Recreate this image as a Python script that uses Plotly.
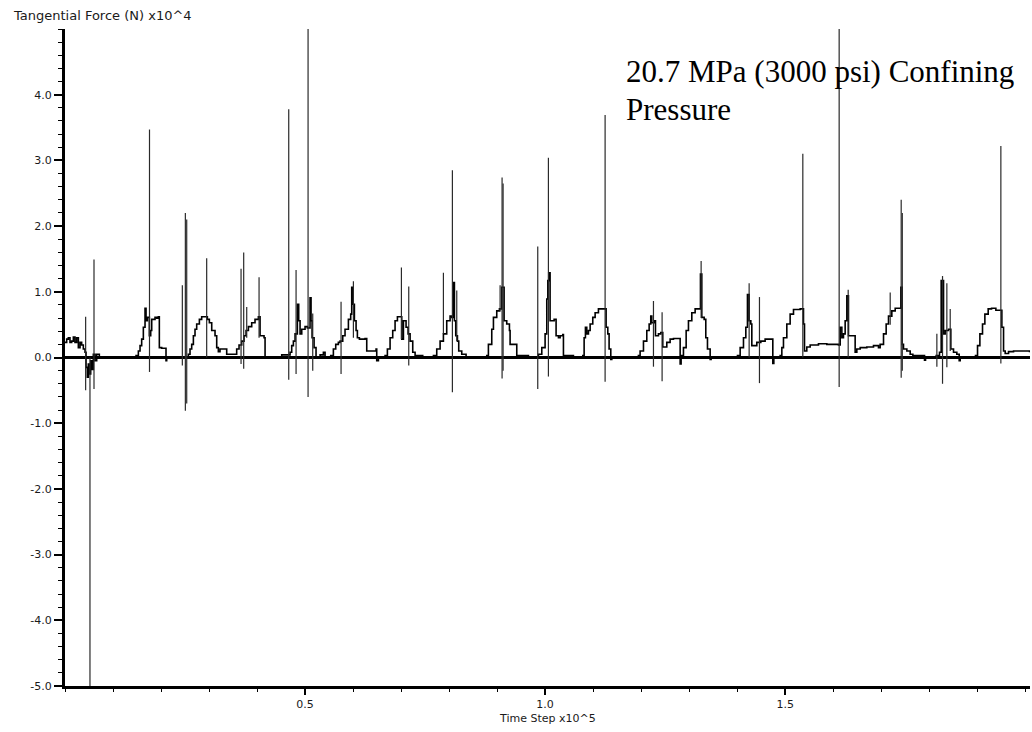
import plotly.graph_objects as go

# ---- data (time step x10^5, tangential force x10^4 N) ----
time_curve = [
    0.000, 0.0035, 0.0069, 0.0104, 0.0139, 0.0174, 0.0208, 0.0243, 0.0278, 0.0313,
    0.0347, 0.0382, 0.0417, 0.0438, 0.0465, 0.0486, 0.0507, 0.0535, 0.0563, 0.0590,
    0.0625, 0.0660, 0.0715,
    0.148, 0.1528, 0.1563, 0.1597, 0.1632, 0.1667, 0.1688, 0.1715, 0.1757, 0.1785,
    0.1806, 0.1875, 0.1910, 0.1944, 0.1965, 0.2014, 0.2083, 0.2104, 0.2118,
    0.2535, 0.2569, 0.2604, 0.2639, 0.2674, 0.2708, 0.2743, 0.2799, 0.2847, 0.2917,
    0.2965, 0.3007, 0.3056, 0.3125, 0.3160, 0.3194, 0.3229, 0.3333, 0.3368, 0.3542,
    0.3576, 0.3625, 0.3681, 0.3729, 0.3771, 0.3820, 0.3889, 0.3958, 0.4028, 0.4063, 0.4146, 0.4167,
    0.4514, 0.4653, 0.4688, 0.4722, 0.4757, 0.4792, 0.4840, 0.4868, 0.4896, 0.4931, 0.5000, 0.5049,
    0.5104, 0.5125, 0.5146, 0.5188, 0.5229, 0.5313, 0.5382, 0.5417,
    0.5535, 0.5590, 0.5639, 0.5694, 0.5729, 0.5785, 0.5833, 0.5903, 0.5951, 0.5972,
    0.5993, 0.6028, 0.6063, 0.6090, 0.6132, 0.6250, 0.6285, 0.6479, 0.6493, 0.6528,
    0.6667, 0.6715, 0.6771, 0.6826, 0.6875, 0.6924, 0.6979, 0.7014, 0.7049, 0.7104,
    0.7146, 0.7188, 0.7243, 0.7292, 0.7451, 0.7465,
    0.7674, 0.7743, 0.7813, 0.7882, 0.7951, 0.8021, 0.8056, 0.8090, 0.8111, 0.8139,
    0.8174, 0.8201, 0.8264, 0.8354,
    0.8785, 0.8819, 0.8889, 0.8924, 0.8993, 0.9049, 0.9097, 0.9146, 0.9201, 0.9257,
    0.9271, 0.9375, 0.9410, 0.9653,
    0.9861, 0.9931, 1.0000, 1.0035, 1.0056, 1.0076, 1.0104, 1.0139, 1.0188, 1.0229,
    1.0278, 1.0313, 1.0368, 1.0382, 1.0556, 1.0590,
    1.0785, 1.0813, 1.0840, 1.0868, 1.0903, 1.0938, 1.0993, 1.1042, 1.1111, 1.1229,
    1.1271, 1.1306, 1.1333, 1.1368, 1.1389,
    1.1944, 1.1979, 1.2049, 1.2118, 1.2167, 1.2201, 1.2222, 1.2278, 1.2299, 1.2361,
    1.2410, 1.2451, 1.2535, 1.2604, 1.2674, 1.2799, 1.2813, 1.2833,
    1.2847, 1.2882, 1.2938, 1.2986, 1.3056, 1.3125, 1.3208, 1.3236, 1.3264, 1.3313,
    1.3347, 1.3382, 1.3438, 1.3458,
    1.4007, 1.4063, 1.4132, 1.4181, 1.4215, 1.4250, 1.4285, 1.4306, 1.4410, 1.4493,
    1.4583, 1.4722, 1.4743, 1.4764,
    1.4896, 1.4931, 1.4965, 1.5035, 1.5104, 1.5174, 1.5313, 1.5354, 1.5382, 1.5403,
    1.5451, 1.5521, 1.5694, 1.5868, 1.6111,
    1.6146, 1.6181, 1.6215, 1.6250, 1.6285, 1.6319, 1.6354, 1.6438, 1.6458, 1.6493,
    1.6563, 1.6701, 1.6840, 1.6944,
    1.6979, 1.7049, 1.7104, 1.7153, 1.7222, 1.7292, 1.7382, 1.7410, 1.7438, 1.7465,
    1.7535, 1.7604, 1.7660, 1.7882, 1.7903, 1.7924,
    1.8146, 1.8215, 1.8250, 1.8299, 1.8333, 1.8403, 1.8451, 1.8507, 1.8576, 1.8625, 1.8646,
    1.8965, 1.9007, 1.9056, 1.9111, 1.9160, 1.9229, 1.9299, 1.9389, 1.9514, 1.9549,
    1.9583, 1.9653, 1.9757, 2.0090,
]
force_curve = [
    0.23, 0.28, 0.30, 0.23, 0.25, 0.31, 0.23, 0.30, 0.15, 0.23,
    0.19, 0.13, 0.08, -0.15, -0.30, -0.10, -0.25, -0.05, -0.18, 0.05,
    -0.05, 0.05, 0.00,
    0.03, 0.10, 0.18, 0.28, 0.46, 0.75, 0.56, 0.61, 0.33, 0.41,
    0.58, 0.61, 0.60, 0.62, 0.15, 0.14, 0.14, -0.05, 0.00,
    0.00, 0.05, 0.13, 0.20, 0.33, 0.43, 0.51, 0.58, 0.62, 0.62,
    0.58, 0.53, 0.41, 0.33, 0.15, 0.09, 0.13, 0.13, 0.05, 0.05,
    0.13, 0.19, 0.25, 0.33, 0.41, 0.47, 0.53, 0.58, 0.62, 0.33, 0.30, 0.00,
    0.04, 0.04, 0.08, 0.18, 0.25, 0.36, 0.81, 0.56, 0.36, 0.43, 0.47, 0.45,
    0.91, 0.56, 0.30, 0.15, 0.00, 0.04, 0.08, 0.00,
    0.03, 0.13, 0.20, 0.23, 0.25, 0.33, 0.43, 0.58, 0.66, 1.07,
    0.81, 0.56, 0.41, 0.30, 0.28, 0.29, 0.10, 0.13, -0.05, 0.00,
    0.03, 0.13, 0.30, 0.41, 0.56, 0.62, 0.62, 0.28, 0.56, 0.46,
    0.36, 0.25, 0.08, 0.03, 0.01, 0.00,
    0.03, 0.13, 0.25, 0.36, 0.56, 0.63, 0.61, 1.14, 0.56, 0.33,
    0.25, 0.10, 0.05, 0.00,
    0.03, 0.20, 0.43, 0.61, 0.71, 0.74, 1.07, 0.56, 0.51, 0.41,
    0.20, 0.20, 0.03, 0.00,
    0.05, 0.15, 0.36, 0.89, 1.17, 1.29, 0.56, 0.56, 0.58, 0.33,
    0.30, 0.33, 0.35, 0.03, 0.03, 0.00,
    0.03, 0.30, 0.46, 0.36, 0.41, 0.51, 0.61, 0.68, 0.74, 0.74,
    0.46, 0.36, 0.13, -0.03, 0.00,
    0.03, 0.10, 0.25, 0.41, 0.51, 0.63, 0.53, 0.56, 0.33, 0.36,
    0.38, 0.16, 0.23, 0.28, 0.29, 0.29, -0.10, 0.00,
    0.03, 0.15, 0.41, 0.56, 0.68, 0.74, 0.74, 1.27, 0.61, 0.58,
    0.30, 0.13, -0.03, 0.00,
    0.03, 0.15, 0.30, 0.46, 0.96, 0.56, 0.51, 0.18, 0.23, 0.25,
    0.28, 0.28, -0.09, 0.00,
    0.03, 0.15, 0.30, 0.51, 0.66, 0.73, 0.74, 0.74, 0.51, 0.10,
    0.16, 0.19, 0.21, 0.20, 0.19,
    0.46, 0.30, 0.36, 0.56, 0.94, 0.33, 0.33, 0.33, 0.08, 0.13,
    0.15, 0.16, 0.18, 0.15,
    0.20, 0.36, 0.51, 0.63, 0.71, 0.75, 0.75, 1.07, 0.20, 0.13,
    0.10, 0.05, 0.03, 0.03, -0.04, 0.00,
    0.03, 0.08, 1.17, 0.36, 0.41, 0.43, 0.13, 0.08, 0.05, -0.05, 0.00,
    0.03, 0.18, 0.36, 0.51, 0.66, 0.74, 0.75, 0.72, 0.46, 0.10,
    0.06, 0.09, 0.10, 0.08,
]

# single-sample spikes: time, peak value, trough value
spike_time = [0.043, 0.052, 0.0604, 0.176, 0.2444, 0.2507, 0.2535, 0.2951, 0.3667, 0.3722,
              0.3785, 0.4042, 0.466, 0.4813, 0.5063, 0.516, 0.575, 0.6007, 0.7007, 0.716,
              0.7882, 0.8069, 0.816, 0.9063, 0.9104, 0.9125, 0.9847, 1.0069, 1.125, 1.2257,
              1.2437, 1.325, 1.425, 1.4465, 1.5368, 1.6125, 1.6313, 1.7188, 1.7417, 1.7440,
              1.816, 1.8278, 1.8368, 1.8438, 1.9493]
spike_top = [0.62, 0.0, 1.49, 3.47, 1.10, 2.20, 2.10, 1.51, 1.35, 1.60,
             0.77, 1.22, 3.78, 1.33, 5.0, 0.67, 0.85, 1.16, 1.37, 1.08,
             1.29, 2.85, 1.02, 1.10, 2.74, 2.65, 1.69, 3.04, 3.69, 0.86,
             0.69, 1.47, 1.13, 0.92, 3.10, 5.0, 1.03, 0.99, 2.40, 2.20,
             0.36, 1.24, 1.13, 0.74, 3.22]
spike_bottom = [-0.50, -5.0, -0.48, -0.22, -0.12, -0.81, -0.70, 0.0, -0.10, -0.17,
                0.30, 0.30, -0.34, -0.25, -0.60, -0.20, -0.25, 0.30, 0.28, -0.12,
                0.36, -0.53, 0.25, 0.70, -0.32, -0.20, -0.48, -0.29, -0.37, -0.14,
                -0.36, 0.60, 0.0, -0.39, 0.0, -0.45, 0.0, 0.50, -0.31, -0.20,
                -0.14, -0.40, -0.15, 0.10, -0.09]

x_tickvals = [0.5, 1.0, 1.5]
x_ticktext = ["0.5", "1.0", "1.5"]
y_tickvals = [-5, -4, -3, -2, -1, 0, 1, 2, 3, 4]
y_ticktext = ["-5.0", "-4.0", "-3.0", "-2.0", "-1.0", "0.0", "1.0", "2.0", "3.0", "4.0"]

# ---- build spike segments ----
sx, sy = [], []
for t, hi, lo in zip(spike_time, spike_top, spike_bottom):
    sx += [t, t, None]
    sy += [lo, hi, None]

fig = go.Figure()
fig.add_trace(go.Scatter(x=time_curve, y=force_curve, mode="lines",
                         line=dict(color="black", width=1.6, shape="hv"),
                         hoverinfo="skip"))
fig.add_trace(go.Scatter(x=sx, y=sy, mode="lines",
                         line=dict(color="#2a2a2a", width=1.2),
                         hoverinfo="skip"))

tick_font = dict(family="DejaVu Sans", size=11, color="#1a1a1a")

fig.update_layout(
    width=1032, height=732,
    margin=dict(l=65, r=2, t=29, b=46),
    paper_bgcolor="white", plot_bgcolor="white",
    showlegend=False,
    xaxis=dict(range=[0, 2.01], showgrid=False, zeroline=False,
               showline=True, linecolor="black", linewidth=3,
               ticks="outside", ticklen=6, tickwidth=2, tickcolor="black",
               tickvals=x_tickvals, ticktext=x_ticktext, tickfont=tick_font,
               minor=dict(dtick=0.1, tick0=0, ticks="outside", ticklen=3,
                          tickwidth=1, tickcolor="black", showgrid=False)),
    yaxis=dict(range=[-5, 5], showgrid=False,
               zeroline=True, zerolinecolor="black", zerolinewidth=3,
               showline=True, linecolor="black", linewidth=3,
               ticks="outside", ticklen=8, tickwidth=2, tickcolor="black",
               tickvals=y_tickvals, ticktext=y_ticktext, tickfont=tick_font,
               minor=dict(dtick=0.2, tick0=0, ticks="outside", ticklen=4,
                          tickwidth=1, tickcolor="black", showgrid=False)),
    annotations=[
        dict(text="Tangential Force (N) x10^4", xref="paper", yref="paper",
             x=-0.0549, y=1.0198, xanchor="left", yanchor="middle",
             showarrow=False, borderpad=0,
             font=dict(family="DejaVu Sans", size=13, color="#1a1a1a")),
        dict(text="Time Step x10^5", xref="paper", yref="paper",
             x=0.5, y=-0.0502, xanchor="center", yanchor="middle",
             showarrow=False, borderpad=0,
             font=dict(family="DejaVu Sans", size=11, color="#1a1a1a")),
        dict(text="20.7 MPa (3000 psi) Confining", xref="paper", yref="paper",
             x=0.5803, y=0.9346, xanchor="left", yanchor="middle",
             showarrow=False, borderpad=0,
             font=dict(family="Liberation Serif", size=31, color="black")),
        dict(text="Pressure", xref="paper", yref="paper",
             x=0.5803, y=0.8782, xanchor="left", yanchor="middle",
             showarrow=False, borderpad=0,
             font=dict(family="Liberation Serif", size=31, color="black")),
    ],
)

fig.write_html("out.html")
